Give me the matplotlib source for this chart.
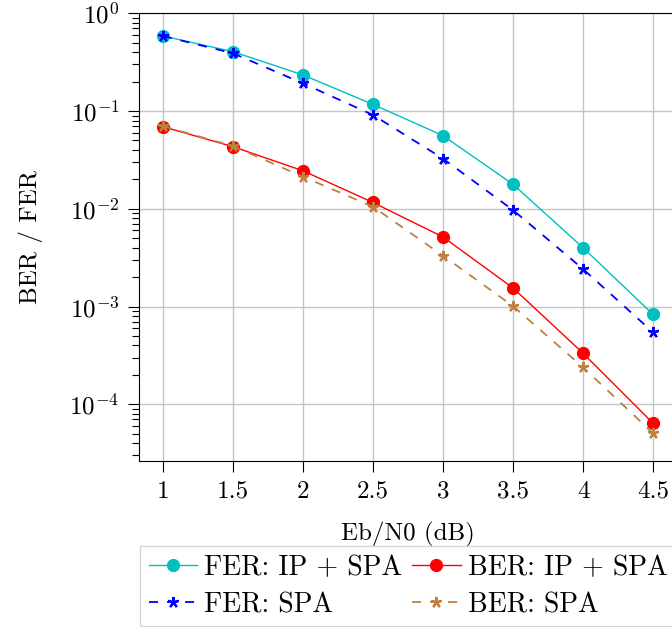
import matplotlib
matplotlib.use('Agg')
import matplotlib.pyplot as plt
from matplotlib.ticker import FuncFormatter, LogLocator

plt.rcParams['font.family'] = 'serif'
plt.rcParams['font.serif'] = ['cmr10']
plt.rcParams['mathtext.fontset'] = 'cm'
plt.rcParams['axes.formatter.use_mathtext'] = True

FONT_SIZE = 18

# data
ebn0 = [1, 1.5, 2, 2.5, 3, 3.5, 4, 4.5]
fer_ip_spa = [0.586, 0.405, 0.234, 0.117, 0.056, 0.0178, 0.0040, 8.3e-4]
fer_spa = [0.586, 0.39, 0.192, 0.0912, 0.0326, 0.0097, 0.00242, 5.45e-4]
ber_ip_spa = [0.0692, 0.0432, 0.0245, 0.0116, 0.00515, 0.00155, 3.33e-4, 6.4e-5]
ber_spa = [0.070, 0.0438, 0.0213, 0.0105, 0.00331, 0.00101, 2.39e-4, 5.05e-5]

fig = plt.figure(figsize=(6.72, 6.27), dpi=100)
ax = fig.add_axes([139 / 672, 166 / 627, 538 / 672, 447.7 / 627])

# pgfplots style asterisk for the SPA curves
star = (5, 2, 0)

ax.plot(ebn0, fer_ip_spa, color='#00bfbf', marker='o', markersize=8.5, lw=1.0,
        label='FER: IP + SPA')
ax.plot(ebn0, fer_spa, color='blue', marker=star, markersize=8, mew=1.6, lw=1.3,
        linestyle=(0, (5, 5)), label='FER: SPA')
ax.plot(ebn0, ber_ip_spa, color='red', marker='o', markersize=8.5, lw=1.0,
        label='BER: IP + SPA')
ax.plot(ebn0, ber_spa, color='#bf8040', marker=star, markersize=8, mew=1.6, lw=1.3,
        linestyle=(0, (5, 5)), label='BER: SPA')

ax.set_yscale('log')
ax.set_ylim(2.63e-5, 1)
ax.set_xlim(0.829, 4.671)
ax.set_xticks(ebn0)
ax.xaxis.set_major_formatter(FuncFormatter(lambda v, p: '%g' % v))
ax.yaxis.set_major_locator(LogLocator(base=10, numticks=10))
ax.yaxis.set_minor_locator(LogLocator(base=10, subs=range(2, 10), numticks=20))

ax.grid(True, which='major', color='#c4c4c4', lw=1.0)
ax.set_axisbelow(True)
ax.tick_params(which='major', direction='out', length=8, width=0.8, labelsize=FONT_SIZE, pad=6)
ax.tick_params(which='minor', direction='out', length=5, width=0.8)
ax.spines['right'].set_visible(False)

ax.set_xlabel('Eb/N0 (dB)', fontsize=FONT_SIZE, labelpad=14)
ax.set_ylabel('BER / FER', fontsize=FONT_SIZE, labelpad=19)

leg = fig.legend(*ax.get_legend_handles_labels(), ncol=2, loc='upper center',
                 bbox_to_anchor=(408 / 672, 1 - 546 / 627), fontsize=20,
                 frameon=True, fancybox=False, edgecolor='#cccccc',
                 handlelength=1.75, handletextpad=0.25, columnspacing=0.35,
                 labelspacing=0.4, borderpad=0.3, borderaxespad=0)
leg.get_frame().set_linewidth(1.0)

fig.savefig('out.png', dpi=100)
